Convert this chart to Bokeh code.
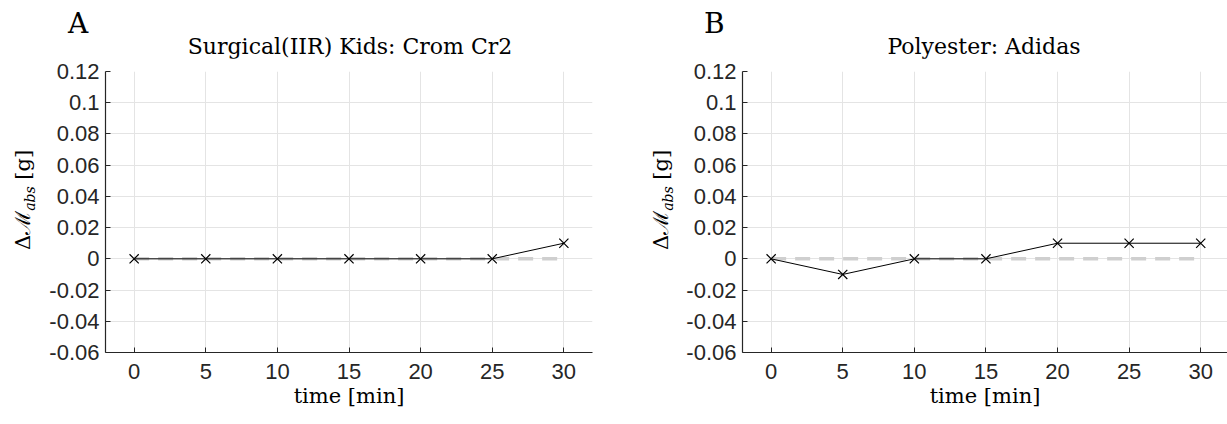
from bokeh.plotting import figure
from bokeh.models import FixedTicker, Range1d, Div
from bokeh.layouts import row, column
from bokeh.embed import file_html
from bokeh.resources import INLINE

time_min = [0, 5, 10, 15, 20, 25, 30]
mass_a = [0, 0, 0, 0, 0, 0, 0.01]
mass_b = [0, -0.01, 0, 0, 0.01, 0.01, 0.01]
baseline = [0, 0, 0, 0, 0, 0, 0]
title_a = "Surgical(IIR) Kids: Crom Cr2"
title_b = "Polyester: Adidas"
x_ticks = [0, 5, 10, 15, 20, 25, 30]
y_ticks = [-0.06, -0.04, -0.02, 0, 0.02, 0.04, 0.06, 0.08, 0.1, 0.12]
y_tick_labels = ["-0.06", "-0.04", "-0.02", "0", "0.02", "0.04", "0.06", "0.08", "0.1", "0.12"]

AX = "#262626"
SERIF = "DejaVu Serif"
SANS = "Liberation Sans"
HEAD_H = 58
FIG_H = 358


def make(ys, width, left, right, x_end):
    p = figure(width=width, height=FIG_H, x_range=Range1d(-2, x_end),
               y_range=Range1d(-0.06, 0.12), output_backend="svg",
               toolbar_location=None, min_border_left=left,
               min_border_right=right, min_border_top=13, min_border_bottom=64)
    p.outline_line_color = None
    p.background_fill_color = "white"
    p.border_fill_color = "white"
    p.xgrid.grid_line_color = "#e4e4e4"
    p.ygrid.grid_line_color = "#e4e4e4"
    p.xaxis.ticker = FixedTicker(ticks=x_ticks)
    p.yaxis.ticker = FixedTicker(ticks=y_ticks)
    p.yaxis.major_label_overrides = {t: s for t, s in zip(y_ticks, y_tick_labels)}
    for ax in (p.xaxis, p.yaxis):
        ax.axis_line_color = AX
        ax.axis_line_width = 1.2
        ax.major_tick_line_color = AX
        ax.major_tick_in = 5
        ax.major_tick_out = 0
        ax.minor_tick_line_color = None
        ax.major_label_text_font = SANS
        ax.major_label_text_font_size = "22px"
        ax.major_label_text_color = AX
    p.yaxis.major_label_standoff = 6
    p.xaxis.major_label_standoff = 11
    p.xaxis.axis_label = "time [min]"
    p.xaxis.axis_label_text_font = SERIF
    p.xaxis.axis_label_text_font_style = "normal"
    p.xaxis.axis_label_text_font_size = "21px"
    p.xaxis.axis_label_text_color = "black"
    p.xaxis.axis_label_standoff = 2

    p.line(time_min, baseline, line_color="#cfcfcf", line_width=3.5, line_dash="15 9")
    p.line(time_min, ys, line_color="black", line_width=1)
    p.scatter(time_min, ys, marker="x", size=13, line_color="black", line_width=1.2)
    return p


def ylab_div(width, left, top):
    html = (
        f'<div style="position:relative;width:{width}px;height:{FIG_H}px;">'
        f'<div style="position:absolute;left:{left}px;top:{top}px;transform:rotate(-90deg);'
        f'transform-origin:0 0;white-space:nowrap;font-family:\'DejaVu Serif\';'
        f'font-size:21px;line-height:21px;color:black;">'
        'Δℳ<span style="font-size:14px;font-style:italic;position:relative;top:5px;">abs</span>'
        '&nbsp;[g]</div></div>'
    )
    return Div(text=html, width=width, height=FIG_H, margin=0)


def centered(text, cx, top, size):
    return (f'<div style="position:absolute;left:{cx - 300}px;width:600px;top:{top}px;'
            f'text-align:center;font-size:{size}px;line-height:{size}px;white-space:nowrap;">'
            f'{text}</div>')


head_html = (
    f'<div style="position:relative;width:1227px;height:{HEAD_H}px;'
    'font-family:\'DejaVu Serif\';color:black;">'
    '<div style="position:absolute;left:68px;top:10px;font-size:28px;line-height:28px;">A</div>'
    '<div style="position:absolute;left:704px;top:10px;font-size:28px;line-height:28px;">B</div>'
    + centered(title_a, 350, 36, 22)
    + centered(title_b, 984, 36, 22)
    + '</div>'
)
header = Div(text=head_html, width=1227, height=HEAD_H, margin=0)

pa = make(mass_a, 575, 60, 28, 32)
pb = make(mass_b, 550, 65, 0, 31.87)
yla = ylab_div(45, 13, 192)
ylb = ylab_div(57, 31, 192)

layout = column(header, row(yla, pa, ylb, pb))
open("out.html", "w").write(file_html(layout, INLINE))
